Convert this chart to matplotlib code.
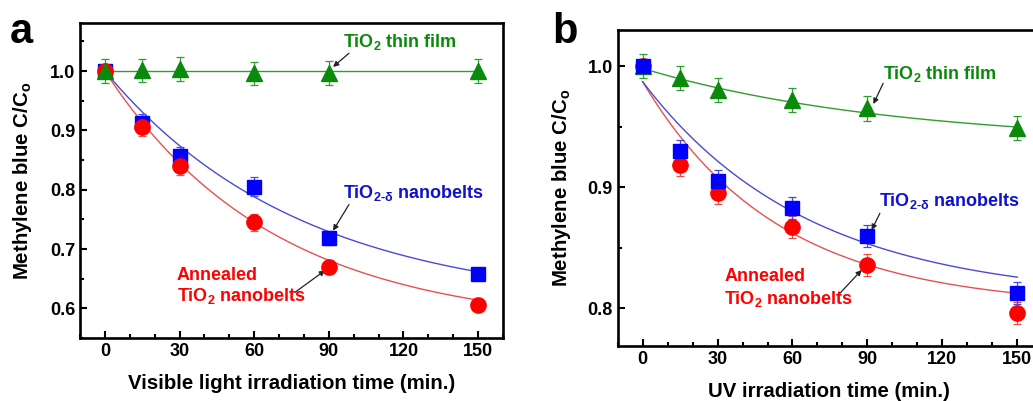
import numpy as np
import matplotlib
matplotlib.use("Agg")
import matplotlib.pyplot as plt
from matplotlib.ticker import MultipleLocator, FormatStrFormatter

plt.rcParams['font.family'] = ['Liberation Sans', 'DejaVu Sans']
plt.rcParams['font.weight'] = 'bold'
plt.rcParams['mathtext.fontset'] = 'custom'
plt.rcParams['mathtext.rm'] = 'Liberation Sans:bold'
plt.rcParams['mathtext.it'] = 'Liberation Sans:bold'
plt.rcParams['mathtext.bf'] = 'Liberation Sans:bold'

# ---------------- data ----------------
time = [0, 15, 30, 60, 90, 150]

# panel a (visible light)
a_film = [1.000, 1.001, 1.003, 0.996, 0.997, 1.000]
a_film_err = [0.02, 0.02, 0.02, 0.02, 0.02, 0.02]
a_delta = [1.000, 0.912, 0.857, 0.805, 0.718, 0.658]
a_delta_err = [0.005, 0.015, 0.015, 0.016, 0.012, 0.010]
a_anneal = [1.000, 0.905, 0.840, 0.745, 0.670, 0.605]
a_anneal_err = [0.005, 0.015, 0.015, 0.014, 0.012, 0.008]

# panel b (UV)
b_film = [1.000, 0.990, 0.980, 0.972, 0.965, 0.949]
b_film_err = [0.010, 0.010, 0.010, 0.010, 0.010, 0.010]
b_delta = [1.000, 0.930, 0.905, 0.883, 0.860, 0.813]
b_delta_err = [0.006, 0.009, 0.009, 0.009, 0.009, 0.009]
b_anneal = [1.000, 0.918, 0.895, 0.867, 0.836, 0.796]
b_anneal_err = [0.006, 0.009, 0.009, 0.009, 0.009, 0.009]

# exponential fit curves y = y0 + A*exp(-t/tau), parameters
a_film_fit = (1.000, 0.0, 100.0)
a_delta_fit = (0.602, 0.398, 78.9)
a_anneal_fit = (0.567, 0.433, 67.4)
b_film_fit = (0.9355, 0.0625, 101.0)
b_delta_fit = (0.807, 0.180, 66.4)
b_anneal_fit = (0.801, 0.186, 53.9)

GREEN = '#0a8a0a'
BLUE = '#0000ff'
RED = '#ff0000'
GREEN_L = '#2e9e2e'
BLUE_L = '#4a4ad8'
RED_L = '#e85050'

W, H = 1033, 401
fig = plt.figure(figsize=(W / 100, H / 100), dpi=100)


def px_axes(l, r, t, b):
    return fig.add_axes([l / W, 1 - b / H, (r - l) / W, (b - t) / H])


axA = px_axes(80, 503, 23, 338)
axB = px_axes(617.7, 1042.2, 30, 346)

tfit = np.linspace(0, 150, 300)


def fitcurve(p):
    y0, A, tau = p
    return y0 + A * np.exp(-tfit / tau)


def draw(ax, series, order):
    for key in order:
        y, e, fitp, mk, col, lcol, ms = series[key]
        ax.plot(tfit, fitcurve(fitp), color=lcol, lw=1.0, zorder=2)
        ax.errorbar(time, y, yerr=e, fmt='none', ecolor=lcol, elinewidth=0.9,
                    capsize=3, capthick=0.9, zorder=3)
        ax.plot(time, y, linestyle='none', marker=mk, color=col, ms=ms,
                mec=col, zorder=4)


seriesA = {
    'delta': (a_delta, a_delta_err, a_delta_fit, 's', BLUE, BLUE_L, 10),
    'anneal': (a_anneal, a_anneal_err, a_anneal_fit, 'o', RED, RED_L, 11),
    'film': (a_film, a_film_err, a_film_fit, '^', GREEN, GREEN_L, 12),
}
seriesB = {
    'delta': (b_delta, b_delta_err, b_delta_fit, 's', BLUE, BLUE_L, 10),
    'anneal': (b_anneal, b_anneal_err, b_anneal_fit, 'o', RED, RED_L, 11),
    'film': (b_film, b_film_err, b_film_fit, '^', GREEN, GREEN_L, 12),
}
draw(axA, seriesA, ['delta', 'anneal', 'film'])
draw(axB, seriesB, ['anneal', 'film', 'delta'])

for ax in (axA, axB):
    ax.set_xlim(-10, 160)
    ax.xaxis.set_major_locator(MultipleLocator(30))
    ax.xaxis.set_minor_locator(MultipleLocator(10))
    ax.yaxis.set_major_locator(MultipleLocator(0.1))
    ax.yaxis.set_minor_locator(MultipleLocator(0.05))
    ax.yaxis.set_major_formatter(FormatStrFormatter('%.1f'))
    ax.tick_params(which='both', direction='in', top=False, right=False,
                   labelsize=13, width=1.5)
    ax.tick_params(which='major', length=5)
    ax.tick_params(which='minor', length=3)
    for s in ax.spines.values():
        s.set_linewidth(1.9)
    for lab in ax.get_xticklabels() + ax.get_yticklabels():
        lab.set_fontweight('bold')
    ax.set_ylabel(r'Methylene blue C/C$_\mathrm{o}$', fontsize=14.7,
                  fontweight='bold')

axA.set_ylim(0.55, 1.081)
axB.set_ylim(0.769, 1.0297)

axA.set_xlabel('Visible light irradiation time (min.)', fontsize=14.7,
               fontweight='bold')
axB.set_xlabel('UV irradiation time (min.)', fontsize=14.7, fontweight='bold')
axA.xaxis.set_label_coords(0.5, -0.115)
axB.xaxis.set_label_coords(0.498, -0.115)
axA.yaxis.set_label_coords(-0.108, 0.5)
axB.yaxis.set_label_coords(-0.105, 0.5)

# annotations
arrowkw = dict(arrowstyle='-|>', color='#222222', lw=0.9, mutation_scale=8,
               shrinkA=0, shrinkB=0)
fs_ann = 13

axA.text(95.7, 1.049, r'TiO$_\mathrm{2}$ thin film', color=GREEN, fontsize=fs_ann,
         fontweight='bold', va='center', ha='left')
axA.annotate('', xy=(91.7, 1.007), xytext=(98.1, 1.030), arrowprops=arrowkw)
axA.text(95.7, 0.794, r'TiO$_\mathrm{2\text{-}\delta}$ nanobelts', color='#1010d0',
         fontsize=fs_ann, fontweight='bold', va='center', ha='left')
axA.annotate('', xy=(91.7, 0.731), xytext=(98.1, 0.775), arrowprops=arrowkw)
axA.text(29, 0.655, 'Annealed', color=RED, fontsize=fs_ann, fontweight='bold',
         va='center', ha='left')
axA.text(29, 0.621, r'TiO$_\mathrm{2}$ nanobelts', color=RED, fontsize=fs_ann,
         fontweight='bold', va='center', ha='left')
axA.annotate('', xy=(88.5, 0.664), xytext=(76.4, 0.627), arrowprops=arrowkw)

axB.text(96.4, 0.9934, r'TiO$_\mathrm{2}$ thin film', color=GREEN, fontsize=fs_ann,
         fontweight='bold', va='center', ha='left')
axB.annotate('', xy=(92.4, 0.9686), xytext=(96.3, 0.9857), arrowprops=arrowkw)
axB.text(94.8, 0.889, r'TiO$_\mathrm{2\text{-}\delta}$ nanobelts', color='#1010d0',
         fontsize=fs_ann, fontweight='bold', va='center', ha='left')
axB.annotate('', xy=(91.7, 0.8647), xytext=(95.0, 0.8785), arrowprops=arrowkw)
axB.text(32.6, 0.826, 'Annealed', color=RED, fontsize=fs_ann, fontweight='bold',
         va='center', ha='left')
axB.text(32.6, 0.8075, r'TiO$_\mathrm{2}$ nanobelts', color=RED, fontsize=fs_ann,
         fontweight='bold', va='center', ha='left')
axB.annotate('', xy=(87.7, 0.8317), xytext=(79.0, 0.8125), arrowprops=arrowkw)

fig.text(10 / W, 1 - 43 / H, 'a', fontsize=30, fontweight='bold', va='baseline')
fig.text(552 / W, 1 - 43 / H, 'b', fontsize=30, fontweight='bold', va='baseline')

fig.savefig('out.png', dpi=100)
